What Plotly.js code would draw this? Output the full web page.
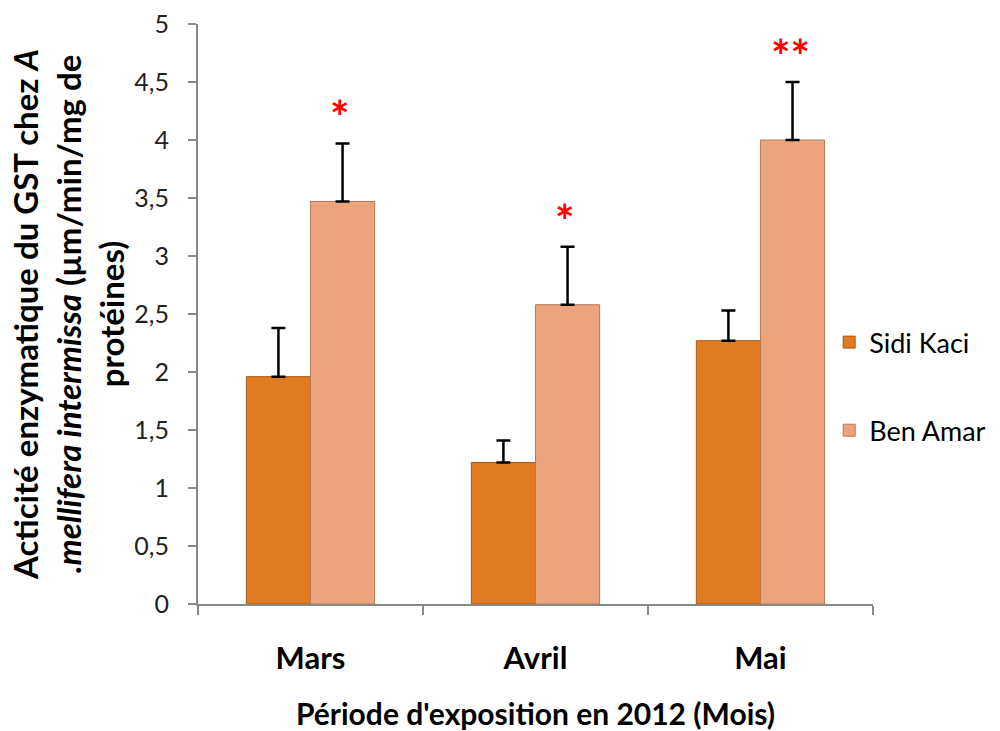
<!DOCTYPE html>
<html>
<head>
<meta charset="utf-8">
<script src="https://cdn.plot.ly/plotly-3.0.1.min.js"></script>
<style>html,body{margin:0;padding:0;background:#fff;}#chart{width:1000px;height:731px;}</style>
</head>
<body>
<div id="chart"></div>
<script>
const months = ["Mars", "Avril", "Mai"];
const sidiKaci = [1.96, 1.22, 2.27];
const sidiKaciErr = [0.42, 0.19, 0.26];
const benAmar = [3.47, 2.58, 4.00];
const benAmarErr = [0.50, 0.50, 0.50];
const benAmarSignif = ["*", "*", "**"];
const yTicks = [0, 0.5, 1, 1.5, 2, 2.5, 3, 3.5, 4, 4.5, 5];
const yTickLabels = ["0", "0,5", "1", "1,5", "2", "2,5", "3", "3,5", "4", "4,5", "5"];

const FONT = "Lato, 'Open Sans', sans-serif";

const traces = [
  {
    type: "bar", name: "Sidi Kaci", x: months, y: sidiKaci, legendgroup: "a",
    marker: {color: "#E07B21", line: {color: "#A85A17", width: 1}},
    error_y: {type: "data", array: sidiKaciErr, arrayminus: sidiKaciErr.map(() => 0), symmetric: false,
              color: "#000", thickness: 2.5, width: 7}
  },
  {
    type: "bar", name: "Ben Amar", x: months, y: benAmar, legendgroup: "b",
    marker: {color: "#EBA47B", line: {color: "#B8795A", width: 1}},
    error_y: {type: "data", array: benAmarErr, arrayminus: benAmarErr.map(() => 0), symmetric: false,
              color: "#000", thickness: 2.5, width: 7}
  }
];

const annotations = months.map((m, i) => ({
  x: m, y: benAmar[i] + benAmarErr[i] + 0.23, xref: "x", yref: "y",
  text: "<b>" + benAmarSignif[i] + "</b>", showarrow: false, xshift: 30,
  font: {family: FONT, size: 46, color: "#FF0000"}
}));

const layout = {
  width: 1000, height: 731,
  margin: {l: 198, r: 0, t: 24, b: 127},
  paper_bgcolor: "#fff", plot_bgcolor: "#fff",
  barmode: "group", bargap: 0.43, bargroupgap: 0,
  font: {family: FONT, color: "#000"},
  showlegend: true,
  legend: {x: 0.787, xanchor: "left", y: 0.493, yanchor: "top",
           font: {family: FONT, size: 27, color: "#000"}, tracegroupgap: 50,
           bgcolor: "rgba(0,0,0,0)"},
  xaxis: {
    type: "category", domain: [0, 0.8416], showline: true, linecolor: "#888", linewidth: 2,
    ticks: "outside", tickson: "boundaries", ticklen: 9, tickcolor: "#888", tickwidth: 2,
    showgrid: false, zeroline: false, ticklabelstandoff: 26,
    tickfont: {family: FONT, size: 31, color: "#000", weight: "bold"},
    title: {text: "<b>Période d'exposition en 2012 (Mois)</b>", font: {family: FONT, size: 30, color: "#000"}, standoff: 31}
  },
  yaxis: {
    range: [0, 5], tickvals: yTicks, ticktext: yTickLabels,
    showline: true, linecolor: "#888", linewidth: 2,
    ticks: "outside", ticklen: 8, tickcolor: "#888", tickwidth: 2,
    showgrid: false, zeroline: false, ticklabelstandoff: 14,
    tickfont: {family: FONT, size: 25, color: "#222"},
    title: {text: "<b>Acticité enzymatique du GST chez <i>A</i><br><i>.mellifera intermissa</i> (µm/min/mg de<br>protéines)</b>",
            font: {family: FONT, size: 33, color: "#000"}, standoff: 0}
  },
  annotations: annotations
};

Plotly.newPlot("chart", traces, layout, {displayModeBar: false, staticPlot: true});
</script>
</body>
</html>
